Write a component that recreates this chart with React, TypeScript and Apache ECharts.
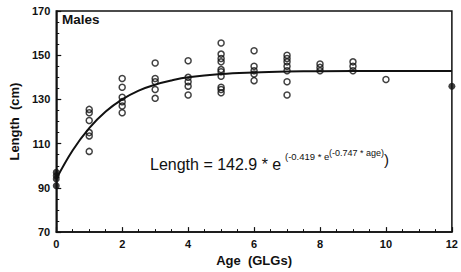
import React, { useEffect, useRef } from "react";
import * as echarts from "echarts";

// Observed lengths (open circles): [age, length]
const ages1 = [1, 1, 1, 1, 1, 1];
const len1 = [125.5, 124, 120.5, 115, 113.5, 106.5];
const ages2 = [2, 2, 2, 2, 2, 2];
const len2 = [139.5, 135.5, 131, 129, 127, 124];
const ages3 = [3, 3, 3, 3, 3];
const len3 = [146.5, 139.5, 138, 134.5, 130.5];
const ages4 = [4, 4, 4, 4, 4];
const len4 = [147.5, 140, 138, 136, 132];
const ages5 = [5, 5, 5, 5, 5, 5, 5, 5, 5, 5];
const len5 = [155.5, 150.5, 148.5, 147, 143.5, 142.5, 140.5, 135.5, 134.5, 133];
const ages6 = [6, 6, 6, 6, 6];
const len6 = [152, 145, 143, 141.5, 138.5];
const ages7 = [7, 7, 7, 7, 7, 7, 7];
const len7 = [150, 148.5, 147, 145, 143, 138, 132];
const ages8 = [8, 8, 8];
const len8 = [146, 144.5, 143];
const ages9 = [9, 9, 9];
const len9 = [147, 145, 143];
const ages10 = [10];
const len10 = [139];

// Filled points
const filledAges = [0, 0, 0, 0, 12];
const filledLen = [97, 95.5, 94, 91, 136];

// Fitted curve
const curveAges = [0, 0.5, 1, 1.5, 2, 2.5, 3, 3.5, 4, 5, 6, 7, 8, 10, 12];
const curveLen = [94, 107, 117, 124.5, 130, 134, 136.7, 138.6, 140, 141.5, 142.2, 142.6, 142.8, 142.9, 142.9];

const xTicks = [0, 2, 4, 6, 8, 10, 12];
const yTicks = [70, 90, 110, 130, 150, 170];

const zip = (a: number[], b: number[]) => a.map((v, i) => [v, b[i]]);

const openAges = [ages1, ages2, ages3, ages4, ages5, ages6, ages7, ages8, ages9, ages10];
const openLens = [len1, len2, len3, len4, len5, len6, len7, len8, len9, len10];

const FONT = "'Liberation Sans Narrow', 'Liberation Sans', Arial, sans-serif";
const FONT2 = "'Liberation Sans', Arial, sans-serif";

export default function App() {
  const ref = useRef<HTMLDivElement>(null);
  useEffect(() => {
    if (!ref.current) return;
    const chart = echarts.init(ref.current, undefined, { renderer: "svg" });
    const openData: number[][] = [];
    openAges.forEach((a, i) => openData.push(...zip(a, openLens[i])));
    chart.setOption({
      animation: false,
      backgroundColor: "#fff",
      grid: {
        left: 52,
        right: 7,
        top: 11,
        bottom: 32,
        show: true,
        borderColor: "#111",
        borderWidth: 1.5,
      },
      xAxis: {
        type: "value",
        min: 0,
        max: 12,
        interval: 2,
        name: "Age  (GLGs)",
        nameLocation: "middle",
        nameGap: 17,
        nameTextStyle: { fontFamily: FONT2, fontWeight: "bold", fontSize: 13, color: "#111" },
        axisLine: { show: true, lineStyle: { color: "#111", width: 1.5 } },
        axisTick: { show: true, inside: true, length: 5, lineStyle: { color: "#111", width: 1.2 } },
        minorTick: { show: true, splitNumber: 4, length: 3, lineStyle: { color: "#111", width: 1 } },
        splitLine: { show: false },
        axisLabel: {
          margin: 6,
          fontFamily: FONT,
          fontWeight: "bold",
          fontSize: 11,
          color: "#111",
          formatter: (v: number) => (xTicks.includes(v) ? String(v) : ""),
        },
      },
      yAxis: {
        type: "value",
        min: 70,
        max: 170,
        interval: 20,
        name: "Length  (cm)",
        nameLocation: "middle",
        nameGap: 32,
        nameTextStyle: { fontFamily: FONT2, fontWeight: "bold", fontSize: 13, color: "#111" },
        axisLine: { show: true, lineStyle: { color: "#111", width: 1.5 } },
        axisTick: { show: true, inside: true, length: 5, lineStyle: { color: "#111", width: 1.2 } },
        minorTick: { show: true, splitNumber: 4, length: 3, lineStyle: { color: "#111", width: 1 } },
        splitLine: { show: false },
        axisLabel: {
          margin: 6,
          fontFamily: FONT,
          fontWeight: "bold",
          fontSize: 11,
          color: "#111",
          formatter: (v: number) => (yTicks.includes(v) ? String(v) : ""),
        },
      },
      series: [
        {
          type: "line",
          data: zip(curveAges, curveLen),
          smooth: 0.4,
          showSymbol: false,
          lineStyle: { color: "#111", width: 2 },
          z: 3,
        },
        {
          type: "scatter",
          data: openData,
          symbol: "circle",
          symbolSize: 6,
          itemStyle: { color: "rgba(255,255,255,0)", borderColor: "#111", borderWidth: 1.5 },
          z: 4,
        },
        {
          type: "scatter",
          data: zip(filledAges, filledLen),
          symbol: "circle",
          symbolSize: 7,
          itemStyle: { color: "#111" },
          z: 5,
        },
      ],
      graphic: [
        {
          type: "text",
          left: 62,
          top: 12,
          style: { text: "Males", fontFamily: FONT2, fontWeight: "bold", fontSize: 13.5, fill: "#111" },
        },
        {
          type: "text",
          x: 150,
          y: 164,
          style: {
            text: "Length = 142.9 * e",
            fontFamily: FONT2,
            fontSize: 16,
            fill: "#111",
            verticalAlign: "middle",
          },
        },
        {
          type: "text",
          x: 285,
          y: 156,
          style: {
            text: "(-0.419 * e",
            fontFamily: FONT2,
            fontSize: 9.5,
            fill: "#111",
            verticalAlign: "middle",
          },
        },
        {
          type: "text",
          x: 329,
          y: 153,
          style: {
            text: "(-0.747 * age)",
            fontFamily: FONT2,
            fontSize: 9,
            fill: "#111",
            verticalAlign: "middle",
          },
        },
        {
          type: "text",
          x: 384,
          y: 159,
          style: {
            text: ")",
            fontFamily: FONT2,
            fontSize: 15,
            fill: "#111",
            verticalAlign: "middle",
          },
        },
      ],
    });
    return () => chart.dispose();
  }, []);
  return <div ref={ref} style={{ width: 461, height: 272, position: "fixed", left: 0, top: 0 }} />;
}
